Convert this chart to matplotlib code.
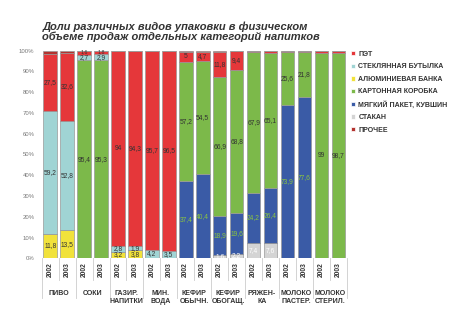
import matplotlib
matplotlib.use('Agg')
import matplotlib.pyplot as plt
import matplotlib.transforms as mtransforms
import numpy as np

plt.rcParams['font.family'] = ['Liberation Sans', 'DejaVu Sans']

categories = ['ПИВО', 'СОКИ', 'ГАЗИР.\nНАПИТКИ', 'МИН.\nВОДА', 'КЕФИР\nОБЫЧН.',
              'КЕФИР\nОБОГАЩ.', 'РЯЖЕН-\nКА', 'МОЛОКО\nПАСТЕР.', 'МОЛОКО\nСТЕРИЛ.']
years = ['2002', '2003']

# shares, %, one value per bar (category x year)
cup    = [0, 0, 0, 0, 0, 0, 0, 0, 0, 0, 1.6, 2.2, 7.4, 7.6, 0, 0, 0, 0]
can    = [11.8, 13.5, 0, 0, 3.2, 3.8, 0, 0, 0, 0, 0, 0, 0, 0, 0, 0, 0, 0]
soft   = [0, 0, 0, 0, 0, 0, 0, 0, 37.4, 40.4, 18.9, 19.6, 24.2, 26.4, 73.9, 77.6, 0, 0]
carton = [0, 0, 95.4, 95.3, 0, 0, 0, 0, 57.2, 54.5, 66.9, 68.8, 67.9, 65.1, 25.6, 21.8, 99, 98.7]
glass  = [59.2, 52.8, 2.7, 2.9, 2.8, 1.9, 4.2, 3.5, 0, 0, 0, 0, 0, 0, 0, 0, 0, 0]
pet    = [27.5, 32.6, 1.6, 1.8, 94, 94.3, 95.7, 96.5, 5, 4.7, 11.8, 9.4, 0.5, 0.9, 0.5, 0.6, 1.0, 1.3]
other  = [1.5, 1.1, 0.3, 0, 0, 0, 0.1, 0, 0.4, 0.4, 0.8, 0, 0, 0, 0, 0, 0, 0]

# stacking order bottom -> top
series = [
    ('СТАКАН', cup, '#d4d4d4', 'white'),
    ('АЛЮМИНИЕВАЯ БАНКА', can, '#f1e23b', '#333333'),
    ('МЯГКИЙ ПАКЕТ, КУВШИН', soft, '#3a5ba6', '#8cc63f'),
    ('КАРТОННАЯ КОРОБКА', carton, '#7cb94a', '#333333'),
    ('СТЕКЛЯННАЯ БУТЫЛКА', glass, '#a0d4d4', '#333333'),
    ('ПЭТ', pet, '#e5373a', '#333333'),
    ('ПРОЧЕЕ', other, '#b3332f', '#333333'),
]
legend_order = ['ПЭТ', 'СТЕКЛЯННАЯ БУТЫЛКА', 'АЛЮМИНИЕВАЯ БАНКА', 'КАРТОННАЯ КОРОБКА',
                'МЯГКИЙ ПАКЕТ, КУВШИН', 'СТАКАН', 'ПРОЧЕЕ']

fig = plt.figure(figsize=(4.6, 3.26), dpi=100)
ax = fig.add_axes([0.087, 0.2077, 0.6707, 0.6368])

x = np.arange(len(categories) * 2)
bottom = np.zeros(len(x))
handles = {}
for name, vals, color, tcolor in series:
    vals = np.array(vals, dtype=float)
    b = ax.bar(x, vals, 0.8, bottom=bottom, color=color, edgecolor='#999999', linewidth=0.5)
    handles[name] = b
    if name != 'ПРОЧЕЕ':
        for xi, v, b0 in zip(x, vals, bottom):
            if v >= 1.5:
                txt = ('%g' % v).replace('.', ',')
                if name == 'ПЭТ' and v < 2:
                    # tiny top segments: label sits right at the top of the bar
                    ax.text(xi, 99.3, txt, ha='center', va='center',
                            fontsize=3.8, color=tcolor)
                else:
                    ax.text(xi, b0 + v / 2, txt, ha='center', va='center',
                            fontsize=4.8, color=tcolor)
    bottom += vals

ax.set_xlim(-0.6, len(x) - 0.4)
ax.set_ylim(0, 100)
ax.set_yticks(np.arange(0, 101, 10))
ax.set_yticklabels(['%d%%' % v for v in range(0, 101, 10)])
ax.tick_params(axis='y', length=0, pad=4, labelsize=4.3, labelcolor='#777777')
ax.set_xticks([])
for s in ax.spines.values():
    s.set_visible(False)

# year labels, category labels and separators under the axis
trans = mtransforms.blended_transform_factory(ax.transData, ax.transAxes)
for i, xi in enumerate(x):
    ax.text(xi, -0.018, years[i % 2], transform=trans, rotation=90, ha='center', va='top',
            fontsize=4.8, fontweight='bold', color='#333333')
for k in range(len(x) + 1):
    xs = k - 0.5
    low = -0.19 if k % 2 == 0 else -0.105
    ax.plot([xs, xs], [0, low], transform=trans, color='#cccccc', lw=0.6, clip_on=False)
for j, cat in enumerate(categories):
    ax.text(2 * j + 0.5, -0.155, cat, transform=trans, ha='center', va='top',
            fontsize=5, fontweight='bold', color='#333333', linespacing=1.1)

fig.text(0.092, 0.935, 'Доли различных видов упаковки в физическом\nобъеме продаж отдельных категорий напитков',
         ha='left', va='top', fontsize=8.0, fontweight='bold', fontstyle='italic',
         color='#333333', linespacing=0.95)

leg = fig.legend([handles[n] for n in legend_order], legend_order,
                 loc='upper left', bbox_to_anchor=(0.755, 0.855), frameon=False,
                 fontsize=5, handlelength=0.6, handleheight=0.6, handletextpad=0.5,
                 labelspacing=0.8, borderpad=0)
for t in leg.get_texts():
    t.set_fontweight('bold')
    t.set_color('#333333')
for h in leg.legend_handles:
    h.set_edgecolor('white')

fig.savefig('out.png', dpi=100)
